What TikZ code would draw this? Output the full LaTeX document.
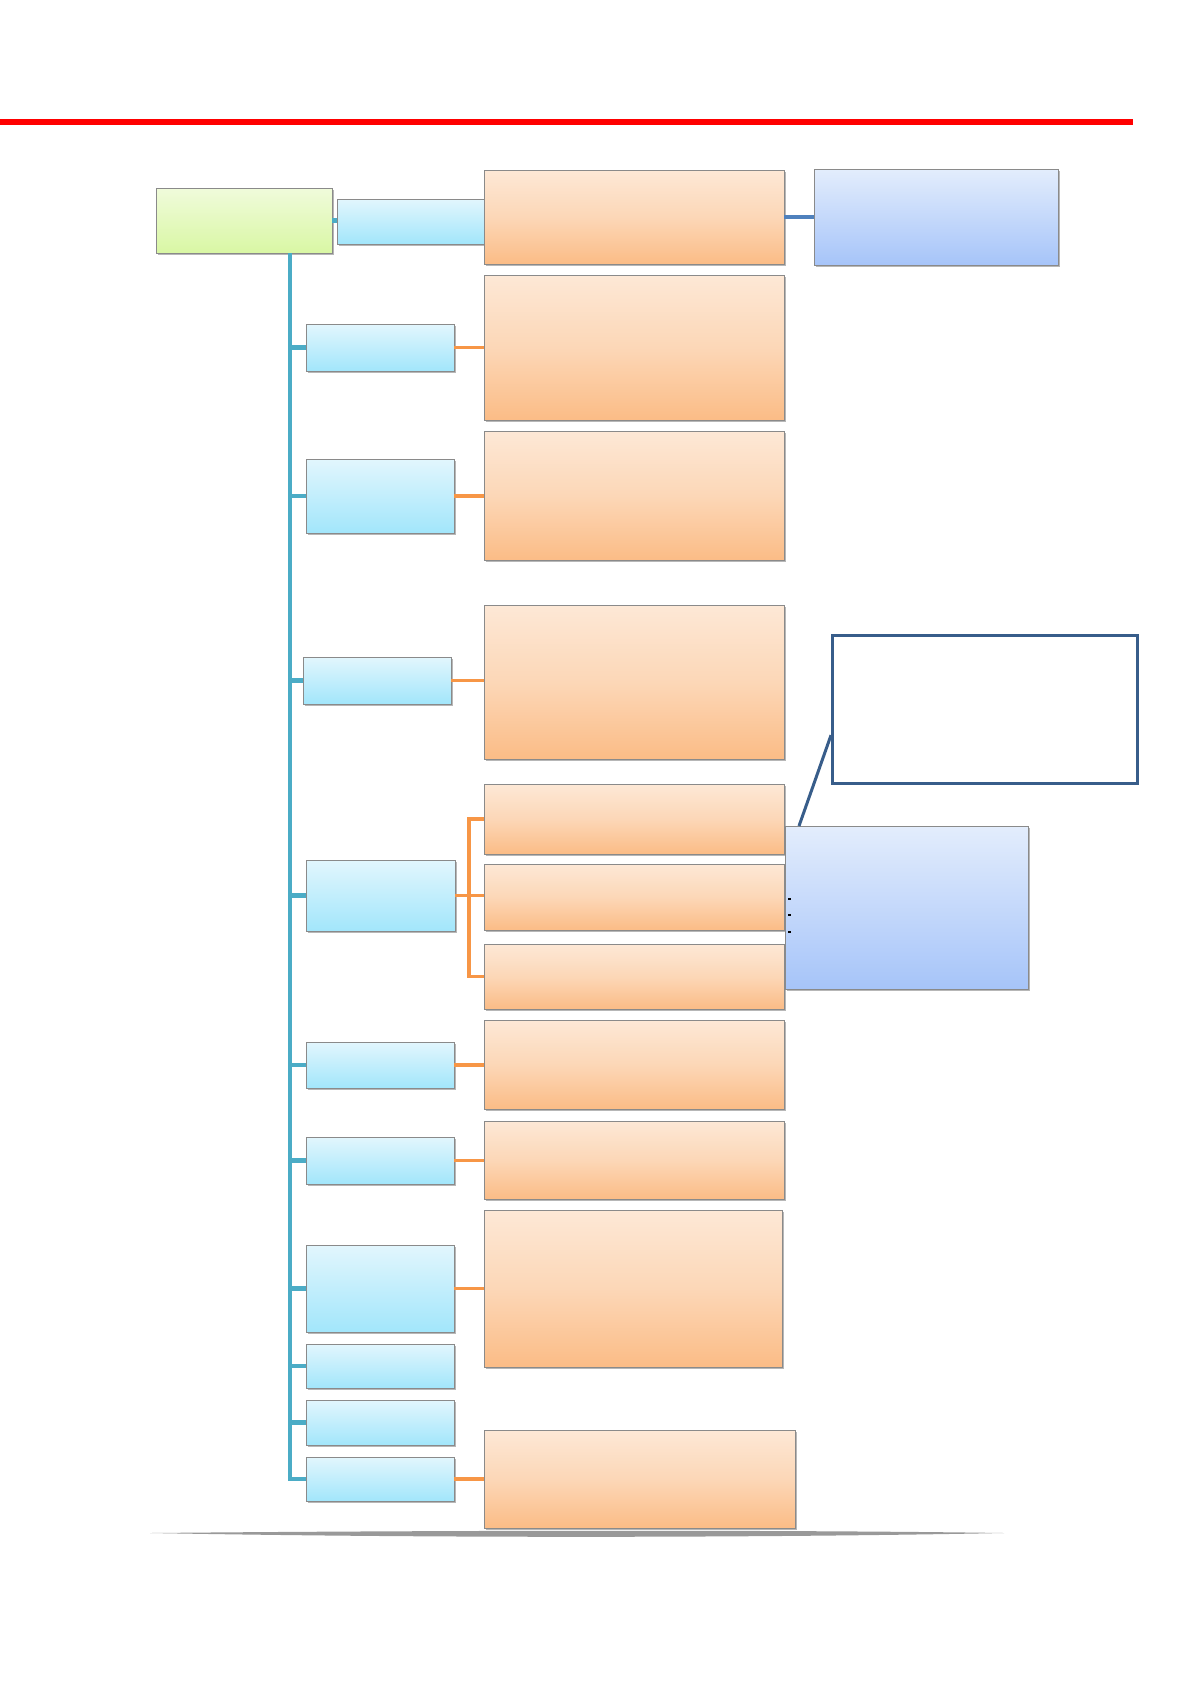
\documentclass[tikz,border=0pt]{standalone}
\usetikzlibrary{shadows,calc}
\definecolor{orTop}{HTML}{FDE8D6}
\definecolor{orMid}{HTML}{FCD7B7}
\definecolor{orBot}{HTML}{FBBC86}
\definecolor{lbTop}{HTML}{E2F6FD}
\definecolor{lbBot}{HTML}{A2E6FB}
\definecolor{grTop}{HTML}{F0FBDB}
\definecolor{grBot}{HTML}{D9F7A4}
\definecolor{puTop}{HTML}{E3EDFC}
\definecolor{puBot}{HTML}{A6C4F9}
\definecolor{boxedge}{HTML}{8A8A8A}
\definecolor{tealc}{HTML}{4BACC6}
\definecolor{orangec}{HTML}{F79646}
\definecolor{steelc}{HTML}{4F81BD}
\definecolor{calloutc}{HTML}{385D8A}
\definecolor{redc}{HTML}{FF0000}
\begin{document}
\begin{tikzpicture}[x=1pt,y=-1pt,
  box/.style={draw=boxedge, line width=0.8pt, inner sep=0pt, outer sep=0pt, anchor=north west,
    drop shadow={shadow xshift=1.5pt, shadow yshift=-2pt, opacity=0.4, fill=black!70}},
  obox/.style={box, top color=orTop, bottom color=orBot, middle color=orMid},
  lbox/.style={box, top color=lbTop, bottom color=lbBot},
  gbox/.style={box, top color=grTop, bottom color=grBot},
  pbox/.style={box, top color=puTop, bottom color=puBot},
  tline/.style={draw=tealc, line width=4.4pt},
  oline/.style={draw=orangec, line width=3.6pt},
  sline/.style={draw=steelc, line width=3.2pt},
  cline/.style={draw=calloutc, line width=3pt},
]
\useasboundingbox (0,0) rectangle (1190,1684);
\fill[white] (0,0) rectangle (1190,1684);

% red header line
\coordinate (redL) at (0,122);
\coordinate (redR) at (1133,122);
\draw[redc, line width=6pt] (redL) -- (redR);

% bottom shadow line
\fill[gray!80] (150,1533) .. controls (480,1530) and (800,1530) .. (1004,1533)
  .. controls (800,1537) and (480,1539) .. (150,1533) -- cycle;

% root and first row
\node[gbox, minimum width=176pt, minimum height=65pt] (g) at (156,188) {};
\node[lbox, minimum width=152pt, minimum height=45pt] (b0) at (337,199) {};
\node[obox, minimum width=300pt, minimum height=94pt] (o1) at (484,170) {};
\node[pbox, minimum width=244pt, minimum height=96pt] (p1) at (814,169) {};

% branch boxes
\node[lbox, minimum width=148pt, minimum height=47pt] (b1) at (306,324) {};
\node[lbox, minimum width=148pt, minimum height=74pt] (b2) at (306,459) {};
\node[lbox, minimum width=148pt, minimum height=47pt] (b3) at (303,657) {};
\node[lbox, minimum width=149pt, minimum height=71pt] (b4) at (306,860) {};
\node[lbox, minimum width=148pt, minimum height=46pt] (b5) at (306,1042) {};
\node[lbox, minimum width=148pt, minimum height=47pt] (b6) at (306,1137) {};
\node[lbox, minimum width=148pt, minimum height=87pt] (b7) at (306,1245) {};
\node[lbox, minimum width=148pt, minimum height=44pt] (b8) at (306,1344) {};
\node[lbox, minimum width=148pt, minimum height=45pt] (b9) at (306,1400) {};
\node[lbox, minimum width=148pt, minimum height=44pt] (b10) at (306,1457) {};

% orange boxes
\node[obox, minimum width=300pt, minimum height=145pt] (o2) at (484,275) {};
\node[obox, minimum width=300pt, minimum height=129pt] (o3) at (484,431) {};
\node[obox, minimum width=300pt, minimum height=154pt] (o4) at (484,605) {};
\node[obox, minimum width=300pt, minimum height=70pt] (o5a) at (484,784) {};
\node[obox, minimum width=300pt, minimum height=66pt] (o5b) at (484,864) {};
\node[obox, minimum width=300pt, minimum height=65pt] (o5c) at (484,944) {};
\node[obox, minimum width=300pt, minimum height=89pt] (o6) at (484,1020) {};
\node[obox, minimum width=300pt, minimum height=78pt] (o7) at (484,1121) {};
\node[obox, minimum width=298pt, minimum height=157pt] (o8) at (484,1210) {};
\node[obox, minimum width=311pt, minimum height=98pt] (o9) at (484,1430) {};

% right blue box and callout
\node[pbox, minimum width=243pt, minimum height=163pt] (p2) at (785,826) {};
\node[draw=calloutc, line width=3pt, fill=white, inner sep=0pt, anchor=north west,
  minimum width=305pt, minimum height=148pt] (call) at (831,634) {};
\coordinate (cfrom) at ($(call.south west)!0.33!(call.north west)$);
\coordinate (cto) at ($(p2.north west)+(14,0)$);
\draw[cline] (cfrom) -- (cto);
\coordinate (tk1) at ($(p2.north west)+(3,73)$);
\coordinate (tk2) at ($(p2.north west)+(3,89)$);
\coordinate (tk3) at ($(p2.north west)+(3,106)$);
\draw[black, line width=1.2pt] (tk1) -- ++(3,0);
\draw[black, line width=1.2pt] (tk2) -- ++(3,0);
\draw[black, line width=1.2pt] (tk3) -- ++(3,0);

% teal tree connectors
\coordinate (ttop) at ($(g.south west)+(134,0)$);
\draw[tline] (ttop) |- (b10.west);
\foreach \b in {b1,b2,b3,b4,b5,b6,b7,b8,b9}{
  \draw[tline] (\b.west) -- (\b.west -| ttop);
}
\draw[tline] (g.east) -- (b0.west |- g.east);

% orange connectors
\draw[oline] (b1.east) -- (b1.east -| o2.west);
\draw[oline] (b2.east) -- (b2.east -| o3.west);
\draw[oline] (b3.east) -- (b3.east -| o4.west);
\coordinate (brk) at ($(b4.east)+(14,0)$);
\draw[oline] (b4.east) -- (b4.east -| o5b.west);
\draw[oline] (o5a.west) -| (brk) |- (o5c.west);
\draw[oline] (b5.east) -- (b5.east -| o6.west);
\draw[oline] (b6.east) -- (b6.east -| o7.west);
\draw[oline] (b7.east) -- (b7.east -| o8.west);
\draw[oline] (b10.east) -- (b10.east -| o9.west);

% steel connector top
\draw[sline] (o1.east) -- (o1.east -| p1.west);
\end{tikzpicture}
\end{document}
